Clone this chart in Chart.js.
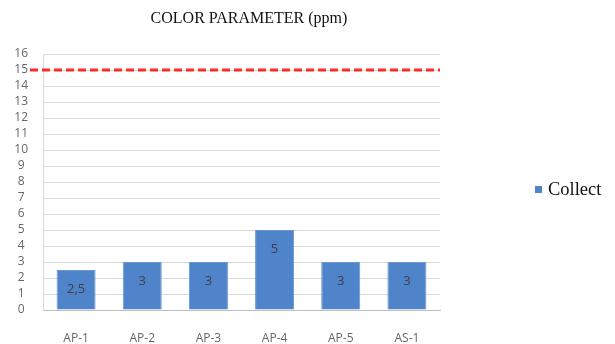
<!DOCTYPE html>
<html>
<head>
<meta charset="utf-8">
<script src="https://cdn.jsdelivr.net/npm/chart.js@4/dist/chart.umd.min.js"></script>
<style>
  html, body { margin: 0; padding: 0; background: #ffffff; }
  #wrap { width: 615px; height: 344px; position: relative; }
</style>
</head>
<body>
<div id="wrap"><canvas id="chart"></canvas></div>
<script>
const categories = ['AP-1', 'AP-2', 'AP-3', 'AP-4', 'AP-5', 'AS-1'];
const collectValues = [2.5, 3, 3, 5, 3, 3];
const limitValue = 15;
const chartTitle = 'COLOR PARAMETER (ppm)';
const seriesName = 'Collect';

const barBlue = '#4f84cb';

// title, legend, limit line and value labels drawn on top of the chart
const extras = {
    id: 'extras',
    afterDatasetsDraw(chart) {
        const ctx = chart.ctx;
        const area = chart.chartArea;
        const y = chart.scales.y;

        // dashed limit line
        const ly = Math.round(y.getPixelForValue(limitValue));
        ctx.save();
        ctx.strokeStyle = '#ff2a2a';
        ctx.lineWidth = 3;
        ctx.setLineDash([8, 4]);
        ctx.beginPath();
        ctx.moveTo(area.left - 13, ly);
        ctx.lineTo(area.right, ly);
        ctx.stroke();
        ctx.restore();

        // value labels inside bars
        const meta = chart.getDatasetMeta(0);
        ctx.save();
        ctx.fillStyle = '#404040';
        ctx.font = '13px "Open Sans"';
        ctx.textAlign = 'center';
        ctx.textBaseline = 'middle';
        meta.data.forEach((bar, i) => {
            const txt = String(collectValues[i]).replace('.', ',');
            ctx.fillText(txt, bar.x, bar.y + 19);
        });
        ctx.restore();

        // title
        ctx.save();
        ctx.fillStyle = '#111111';
        ctx.font = '16px "Liberation Serif"';
        ctx.textAlign = 'center';
        ctx.textBaseline = 'middle';
        ctx.fillText(chartTitle, 249, 19);

        // legend
        ctx.fillStyle = barBlue;
        ctx.fillRect(535, 186, 7, 7);
        ctx.fillStyle = '#111111';
        ctx.font = '18.5px "Liberation Serif"';
        ctx.textAlign = 'left';
        ctx.fillText(seriesName, 548, 190);
        ctx.restore();
    }
};

new Chart(document.getElementById('chart'), {
    type: 'bar',
    data: {
        labels: categories,
        datasets: [{
            label: seriesName,
            data: collectValues,
            backgroundColor: barBlue,
            borderColor: '#6a97d4',
            borderWidth: 1,
            categoryPercentage: 1,
            barPercentage: 0.59
        }]
    },
    options: {
        responsive: true,
        maintainAspectRatio: false,
        animation: false,
        layout: { padding: { top: 54, right: 175, bottom: 0, left: 0 } },
        plugins: {
            legend: { display: false },
            title: { display: false },
            tooltip: { enabled: false }
        },
        scales: {
            x: {
                grid: { display: false, drawTicks: false },
                border: { color: '#bfbfbf', width: 1 },
                ticks: {
                    color: '#666666',
                    font: { family: 'Open Sans', size: 12 },
                    padding: 21,
                    maxRotation: 0
                },
                afterFit(s) { s.height = 34; }
            },
            y: {
                min: 0,
                max: 16,
                grid: { color: '#d9d9d9', drawTicks: false },
                border: { color: '#d9d9d9', width: 1 },
                ticks: {
                    stepSize: 1,
                    autoSkip: false,
                    color: '#666666',
                    font: { family: 'Open Sans', size: 12 },
                    crossAlign: 'center',
                    padding: 15
                },
                afterFit(s) { s.width = 43; }
            }
        }
    },
    plugins: [extras]
});
</script>
</body>
</html>
